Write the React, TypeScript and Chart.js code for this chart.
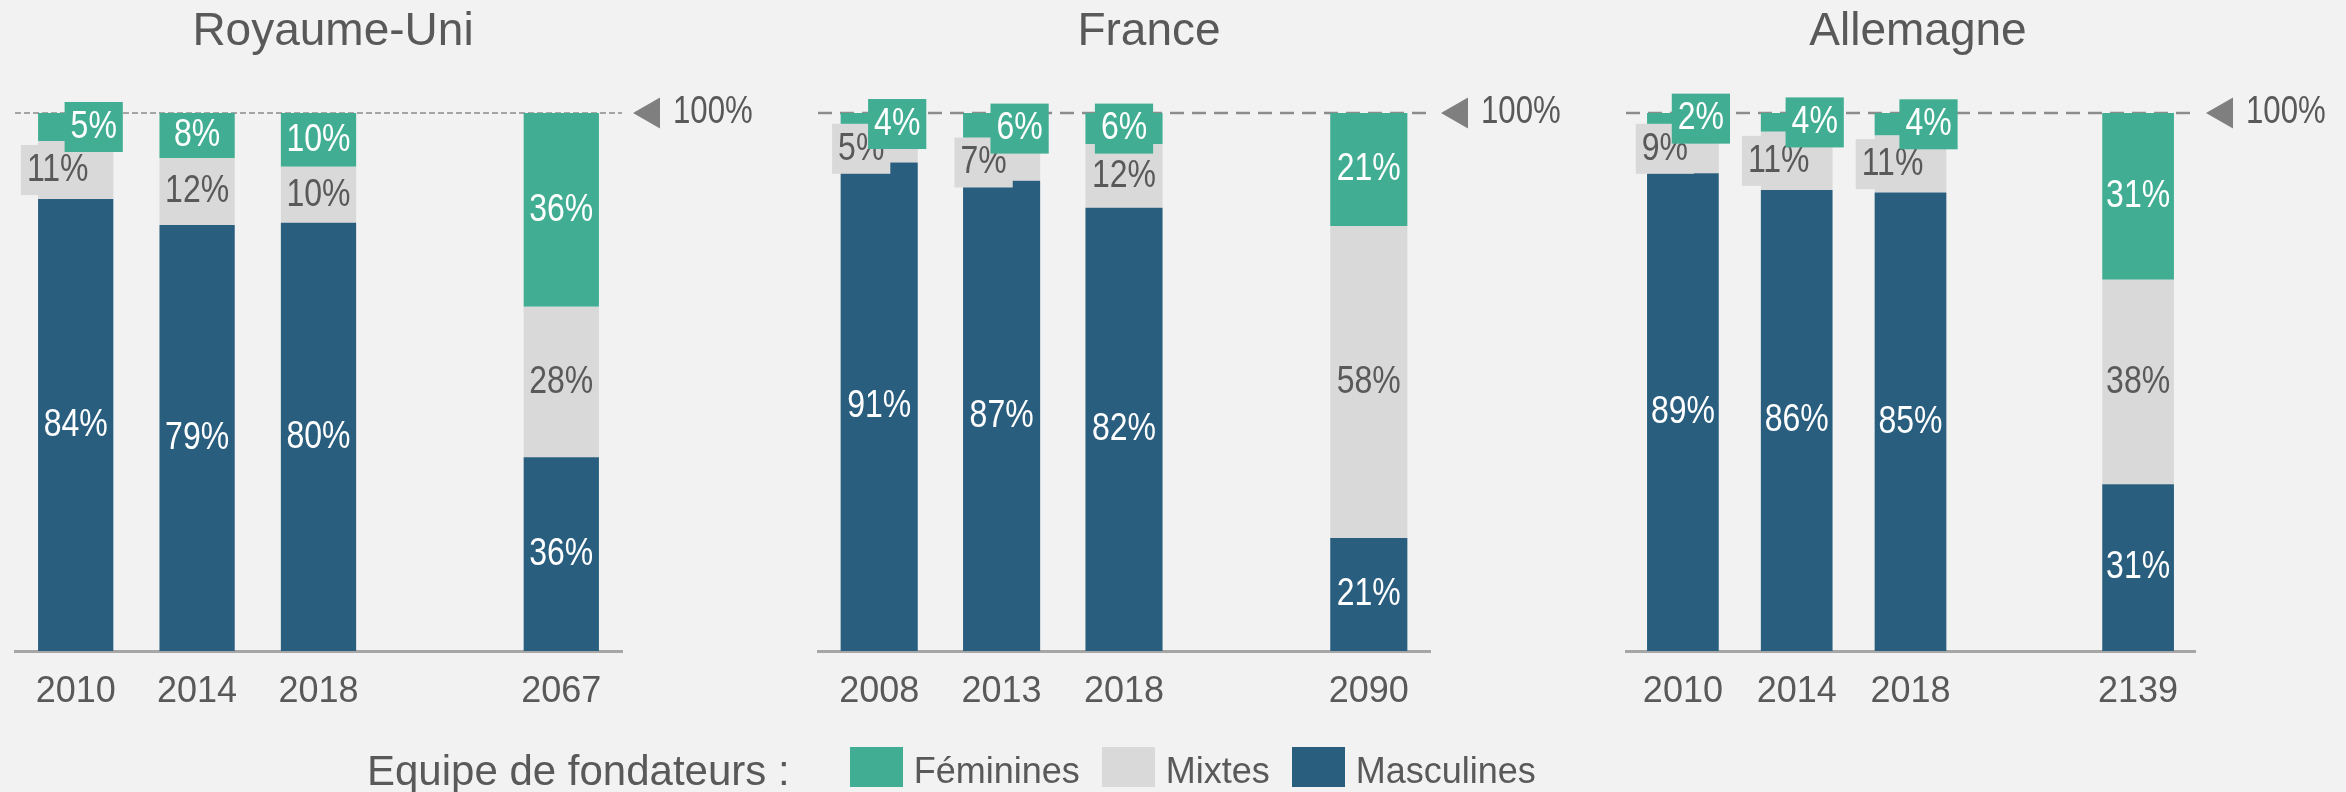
import React, { useEffect, useRef } from 'react';
import { Chart, registerables } from 'chart.js';

Chart.register(...registerables);

// ---------- data ----------
const seriesNames = ['Masculines', 'Mixtes', 'Féminines'];
const seriesColors = ['#295E7E', '#D9D9D9', '#41AE93'];
const legendTitle = 'Equipe de fondateurs :';
const referenceLabel = '100%';

const titleUK = 'Royaume-Uni';
const categoriesUK = ['2010', '2014', '2018', '', '2067'];
const masculinesUK = [84.0, 79.2, 79.6, null, 36];
const mixtesUK = [10.8, 12.4, 10.4, null, 28];
const femininesUK = [5.2, 8.4, 10.0, null, 36];

const titleFR = 'France';
const categoriesFR = ['2008', '2013', '2018', '', '2090'];
const masculinesFR = [90.8, 87.4, 82.4, null, 21];
const mixtesFR = [5.1, 6.8, 11.8, null, 58];
const femininesFR = [4.1, 5.8, 5.8, null, 21];

const titleDE = 'Allemagne';
const categoriesDE = ['2010', '2014', '2018', '', '2139'];
const masculinesDE = [88.8, 85.7, 85.2, null, 31];
const mixtesDE = [9.1, 10.8, 10.6, null, 38];
const femininesDE = [2.1, 3.5, 4.2, null, 31];

// ---------- style / layout ----------
const TEXT = '#595959';
const SANS = '"Liberation Sans", Arial, sans-serif';
const NARROW_X = 0.82; // horizontal squeeze emulating a narrow face
const H = 792;

type Panel = {
  title: string;
  categories: string[];
  series: (number | null)[][];
  left: number;
  width: number;
  padL: number;
  padR: number;
  bar: number;
  titleX: number;
  dash: number[];
  dashWidth: number;
};

const panels: Panel[] = [
  { title: titleUK, categories: categoriesUK, series: [masculinesUK, mixtesUK, femininesUK], left: 0, width: 780, padL: 15, padR: 158, bar: 0.62, titleX: 333, dash: [6, 3], dashWidth: 1.5 },
  { title: titleFR, categories: categoriesFR, series: [masculinesFR, mixtesFR, femininesFR], left: 790, width: 790, padL: 28, padR: 150, bar: 0.63, titleX: 1149, dash: [14, 8], dashWidth: 2.5 },
  { title: titleDE, categories: categoriesDE, series: [masculinesDE, mixtesDE, femininesDE], left: 1590, width: 756, padL: 36, padR: 151, bar: 0.63, titleX: 1918, dash: [14, 8], dashWidth: 2.5 },
];

function narrowText(ctx: CanvasRenderingContext2D, txt: string, x: number, y: number, align: CanvasTextAlign) {
  ctx.save();
  ctx.translate(x, y);
  ctx.scale(NARROW_X, 1);
  ctx.textAlign = align;
  ctx.fillText(txt, 0, 0);
  ctx.restore();
}

function makeDecor(p: Panel) {
  return {
    id: 'decor',
    beforeDatasetsDraw(chart: any) {
      const { ctx, chartArea } = chart;
      const y = chart.scales.y.getPixelForValue(100);
      ctx.save();
      ctx.strokeStyle = '#8C8C8C';
      ctx.lineWidth = p.dashWidth;
      ctx.setLineDash(p.dash);
      ctx.beginPath();
      ctx.moveTo(chartArea.left, y);
      ctx.lineTo(chartArea.right, y);
      ctx.stroke();
      ctx.restore();
    },
    afterDatasetsDraw(chart: any) {
      const { ctx, chartArea } = chart;
      const yTop = chart.scales.y.getPixelForValue(100);
      ctx.save();
      // title
      ctx.fillStyle = TEXT;
      ctx.font = `46px ${SANS}`;
      ctx.textAlign = 'center';
      ctx.textBaseline = 'alphabetic';
      ctx.fillText(p.title, p.titleX - p.left, 45);
      // reference marker
      const r = chartArea.right;
      ctx.fillStyle = '#7F7F7F';
      ctx.beginPath();
      ctx.moveTo(r + 11, yTop);
      ctx.lineTo(r + 38, yTop - 15.5);
      ctx.lineTo(r + 38, yTop + 15.5);
      ctx.closePath();
      ctx.fill();
      ctx.fillStyle = TEXT;
      ctx.font = `38px ${SANS}`;
      ctx.textBaseline = 'middle';
      narrowText(ctx, referenceLabel, r + 51, yTop, 'left');

      // value labels
      ctx.font = `39px ${SANS}`;
      ctx.textBaseline = 'middle';
      const n = chart.data.labels.length;
      const metas = [0, 1, 2].map((i) => chart.getDatasetMeta(i));
      for (let j = 0; j < n; j++) {
        const vals = [0, 1, 2].map((i) => chart.data.datasets[i].data[j]);
        if (vals[0] == null) continue;
        const femBox = vals[2] < 7;
        const shift = femBox && vals[1] < 11.5;
        for (let i = 0; i < 3; i++) {
          const el = metas[i].data[j];
          const cx = el.x;
          const cy = (el.y + el.base) / 2;
          const txt = Math.round(vals[i]) + '%';
          const color = i === 1 ? TEXT : '#FFFFFF';
          let bx = cx;
          let boxed = false;
          if (i === 1 && shift) { boxed = true; bx = cx - 18; }
          if (i === 2 && femBox) { boxed = true; bx = cx + (shift ? 18 : 0); }
          if (boxed) {
            const w = ctx.measureText(txt).width * NARROW_X + 12;
            ctx.fillStyle = seriesColors[i];
            ctx.fillRect(bx - w / 2, cy - 25, w, 50);
          }
          ctx.fillStyle = color;
          narrowText(ctx, txt, bx, cy, 'center');
        }
      }
      ctx.restore();
    },
  };
}

function PanelChart({ p }: { p: Panel }) {
  const ref = useRef<HTMLCanvasElement | null>(null);
  useEffect(() => {
    if (!ref.current) return;
    const chart = new Chart(ref.current, {
      type: 'bar',
      data: {
        labels: p.categories,
        datasets: p.series.map((d, i) => ({
          label: seriesNames[i],
          data: d,
          backgroundColor: seriesColors[i],
          borderWidth: 0,
          categoryPercentage: 1,
          barPercentage: p.bar,
        })),
      },
      options: {
        responsive: false,
        animation: false,
        layout: { padding: { left: p.padL, right: p.padR, top: 113, bottom: 81 } },
        plugins: {
          legend: { display: false },
          tooltip: { enabled: false },
          title: { display: false },
        },
        scales: {
          x: {
            stacked: true,
            grid: { display: false, drawTicks: false },
            border: { display: true, color: '#A6A6A6', width: 3 },
            ticks: { color: TEXT, font: { family: SANS, size: 36 }, padding: 19, maxRotation: 0, autoSkip: false },
            afterFit: (s: any) => { s.height = 60; },
          },
          y: { stacked: true, display: false, min: 0, max: 100 },
        },
      },
      plugins: [makeDecor(p)],
    } as any);
    return () => chart.destroy();
  }, [p]);
  return (
    <canvas
      ref={ref}
      width={p.width}
      height={H}
      style={{ position: 'absolute', left: p.left, top: 0, width: p.width, height: H }}
    />
  );
}

export default function App() {
  const legendOrder = [2, 1, 0];
  return (
    <div style={{ position: 'fixed', left: 0, top: 0, width: 2346, height: H, background: '#F2F2F2', overflow: 'hidden' }}>
      {panels.map((p, i) => (
        <PanelChart key={i} p={p} />
      ))}
      <div style={{ position: 'absolute', left: 367, top: 747, height: 40, display: 'flex', alignItems: 'flex-start', whiteSpace: 'nowrap', color: TEXT }}>
        <span style={{ font: `42px ${SANS}`, lineHeight: '42px', marginTop: 3 }}>{legendTitle}</span>
        {legendOrder.map((i, k) => (
          <React.Fragment key={i}>
            <span style={{ display: 'inline-block', width: 53, height: 40, background: seriesColors[i], marginLeft: k === 0 ? 60 : 22 }} />
            <span style={{ font: `36px ${SANS}`, lineHeight: '36px', marginTop: 6, marginLeft: 11 }}>{seriesNames[i]}</span>
          </React.Fragment>
        ))}
      </div>
    </div>
  );
}
